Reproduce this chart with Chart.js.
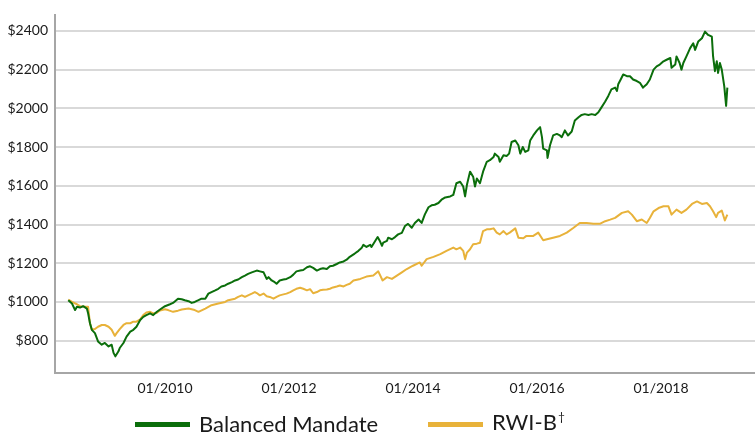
<!DOCTYPE html>
<html><head><meta charset="utf-8">
<script src="https://cdn.jsdelivr.net/npm/chart.js@4/dist/chart.umd.min.js"></script>
<style>
html,body{margin:0;padding:0;background:#fff;}
#wrap{position:relative;width:755px;height:435px;overflow:hidden;}
#legend{position:absolute;left:0;top:409px;width:755px;height:30px;font-family:Lato,"Open Sans",sans-serif;font-size:22px;line-height:26px;color:#1a1a1a;}
.item{position:absolute;top:0;display:flex;align-items:center;height:30px;white-space:nowrap;}
.sw{width:55px;height:5px;margin-right:9px;}
.sup{font-size:12px;position:relative;top:-9px;margin-left:1px;}
</style></head>
<body><div id="wrap"><canvas id="c" width="755" height="435"></canvas><div id="legend"></div></div>
<script>
// Series names
const seriesNames = ["Balanced Mandate", "RWI-B\u2020"];
const seriesColors = ["#0b6e0b", "#e8b23a"];

// Balanced Mandate (decimal years, values in $)
const balancedDates = [2008.44,2008.50,2008.55,2008.58,2008.63,2008.68,2008.74,2008.76,2008.79,2008.82,2008.87,2008.92,2008.98,2009.03,2009.09,2009.14,2009.17,2009.20,2009.25,2009.27,2009.33,2009.38,2009.44,2009.49,2009.54,2009.60,2009.65,2009.70,2009.76,2009.81,2009.87,2009.92,2010.00,2010.08,2010.13,2010.21,2010.27,2010.32,2010.38,2010.43,2010.48,2010.54,2010.59,2010.65,2010.70,2010.75,2010.81,2010.86,2010.91,2010.97,2011.02,2011.08,2011.13,2011.18,2011.24,2011.29,2011.34,2011.40,2011.48,2011.53,2011.59,2011.64,2011.67,2011.72,2011.77,2011.80,2011.85,2011.91,2011.96,2012.02,2012.07,2012.12,2012.18,2012.23,2012.29,2012.34,2012.39,2012.45,2012.50,2012.55,2012.61,2012.66,2012.71,2012.77,2012.82,2012.88,2012.93,2012.98,2013.06,2013.12,2013.17,2013.20,2013.25,2013.31,2013.33,2013.39,2013.43,2013.47,2013.50,2013.52,2013.58,2013.60,2013.66,2013.71,2013.76,2013.82,2013.87,2013.92,2013.98,2014.03,2014.09,2014.14,2014.19,2014.25,2014.30,2014.35,2014.41,2014.46,2014.52,2014.60,2014.65,2014.70,2014.76,2014.81,2014.84,2014.87,2014.92,2014.97,2015.00,2015.03,2015.08,2015.13,2015.19,2015.24,2015.30,2015.32,2015.38,2015.40,2015.46,2015.51,2015.55,2015.59,2015.65,2015.70,2015.73,2015.77,2015.81,2015.86,2015.89,2015.94,2016.00,2016.05,2016.08,2016.10,2016.16,2016.17,2016.21,2016.26,2016.32,2016.37,2016.40,2016.45,2016.50,2016.56,2016.61,2016.67,2016.72,2016.77,2016.83,2016.88,2016.94,2016.99,2017.04,2017.10,2017.15,2017.20,2017.26,2017.29,2017.31,2017.35,2017.39,2017.45,2017.50,2017.55,2017.61,2017.66,2017.71,2017.77,2017.82,2017.88,2017.93,2017.98,2018.04,2018.09,2018.15,2018.17,2018.23,2018.25,2018.30,2018.33,2018.36,2018.41,2018.47,2018.52,2018.55,2018.60,2018.66,2018.71,2018.76,2018.82,2018.84,2018.87,2018.90,2018.92,2018.95,2018.98,2019.02,2019.05,2019.07];
const balancedValues = [1009,992,958,975,971,978,966,941,890,856,839,796,779,788,770,779,737,719,745,762,788,821,847,856,872,907,923,932,941,932,949,961,978,988,995,1017,1014,1009,1004,995,1000,1009,1017,1017,1043,1051,1060,1068,1080,1085,1094,1102,1111,1116,1128,1136,1145,1153,1162,1158,1153,1119,1128,1111,1102,1094,1111,1116,1119,1128,1141,1158,1162,1165,1179,1184,1176,1162,1170,1174,1170,1184,1187,1196,1204,1209,1218,1233,1250,1264,1278,1295,1284,1295,1284,1315,1335,1312,1290,1306,1315,1332,1324,1335,1349,1357,1392,1403,1383,1408,1426,1408,1451,1489,1499,1502,1511,1528,1540,1545,1553,1613,1621,1596,1545,1605,1673,1647,1596,1638,1613,1673,1724,1732,1749,1766,1749,1724,1758,1754,1766,1826,1834,1809,1766,1800,1775,1783,1834,1860,1886,1903,1851,1792,1783,1744,1809,1860,1868,1860,1851,1886,1860,1880,1937,1954,1966,1970,1966,1970,1966,1980,2005,2035,2064,2098,2107,2090,2124,2149,2175,2166,2166,2149,2141,2132,2107,2124,2149,2200,2217,2226,2243,2251,2260,2209,2226,2268,2234,2200,2234,2268,2311,2336,2302,2345,2362,2396,2379,2370,2268,2192,2243,2183,2234,2200,2115,2013,2107];

// RWI-B benchmark (decimal years, values in $)
const rwiDates = [2008.44,2008.50,2008.58,2008.63,2008.71,2008.76,2008.79,2008.82,2008.87,2008.92,2008.98,2009.03,2009.09,2009.14,2009.19,2009.22,2009.27,2009.33,2009.38,2009.44,2009.49,2009.54,2009.60,2009.65,2009.70,2009.76,2009.81,2009.87,2009.92,2010.00,2010.05,2010.13,2010.21,2010.27,2010.38,2010.48,2010.54,2010.65,2010.75,2010.86,2010.97,2011.02,2011.13,2011.18,2011.24,2011.29,2011.34,2011.40,2011.45,2011.48,2011.53,2011.59,2011.64,2011.69,2011.75,2011.80,2011.85,2011.91,2011.96,2012.02,2012.07,2012.12,2012.18,2012.23,2012.29,2012.34,2012.39,2012.45,2012.50,2012.55,2012.61,2012.66,2012.71,2012.77,2012.82,2012.88,2012.93,2012.98,2013.04,2013.15,2013.25,2013.36,2013.44,2013.51,2013.58,2013.66,2013.74,2013.82,2013.90,2014.00,2014.11,2014.14,2014.22,2014.33,2014.44,2014.54,2014.65,2014.70,2014.76,2014.81,2014.84,2014.87,2014.92,2014.97,2015.03,2015.08,2015.13,2015.19,2015.24,2015.30,2015.35,2015.40,2015.46,2015.51,2015.56,2015.65,2015.70,2015.78,2015.83,2015.94,2016.02,2016.10,2016.16,2016.26,2016.37,2016.48,2016.59,2016.69,2016.80,2016.91,2017.02,2017.10,2017.18,2017.26,2017.37,2017.47,2017.53,2017.61,2017.69,2017.77,2017.82,2017.88,2017.96,2018.04,2018.12,2018.17,2018.25,2018.33,2018.41,2018.50,2018.58,2018.66,2018.74,2018.79,2018.84,2018.89,2018.92,2018.98,2019.03,2019.07];
const rwiValues = [1012,1000,988,978,975,975,890,856,860,872,881,881,872,856,825,839,860,881,890,890,898,898,910,932,945,949,941,944,956,962,958,949,955,961,966,958,949,966,983,992,1000,1009,1017,1026,1034,1026,1034,1043,1051,1046,1034,1043,1029,1026,1017,1026,1034,1039,1043,1051,1060,1068,1073,1068,1060,1066,1045,1051,1060,1063,1064,1068,1075,1080,1085,1080,1088,1094,1111,1119,1131,1136,1158,1111,1128,1119,1136,1153,1170,1187,1204,1187,1221,1233,1247,1264,1281,1272,1281,1264,1221,1255,1272,1298,1301,1306,1366,1375,1375,1380,1358,1349,1366,1349,1358,1380,1332,1329,1341,1341,1358,1319,1324,1332,1341,1358,1383,1408,1408,1404,1404,1417,1425,1434,1460,1468,1451,1417,1426,1408,1434,1468,1485,1494,1494,1451,1477,1460,1477,1506,1519,1506,1511,1494,1468,1438,1460,1472,1421,1451];

// Axis ticks
const xTickYears = [2010, 2012, 2014, 2016, 2018];
const yTickValues = [800, 1000, 1200, 1400, 1600, 1800, 2000, 2200, 2400];

const toPts = (xs, ys) => xs.map((x, i) => ({x: x, y: ys[i]}));
const tickFont = {family: 'Lato', size: 14};

new Chart(document.getElementById('c'), {
  type: 'line',
  data: {
    datasets: [
      {label: seriesNames[0], data: toPts(balancedDates, balancedValues), borderColor: seriesColors[0], borderWidth: 2, pointRadius: 0, tension: 0, fill: false, borderJoinStyle: 'round'},
      {label: seriesNames[1], data: toPts(rwiDates, rwiValues), borderColor: seriesColors[1], borderWidth: 2, pointRadius: 0, tension: 0, fill: false, borderJoinStyle: 'round'}
    ]
  },
  options: {
    responsive: false,
    animation: false,
    layout: {padding: {top: 12, right: 0, left: 0, bottom: 0}},
    plugins: {legend: {display: false}, tooltip: {enabled: false}},
    scales: {
      x: {
        type: 'linear', min: 2008.226, max: 2019.516,
        afterBuildTicks: s => { s.ticks = xTickYears.map(v => ({value: v})); },
        afterFit: s => { s.height = 62; },
        grid: {display: false, drawTicks: false},
        border: {display: true, color: '#a6a6a6', width: 2},
        ticks: {padding: 7, maxRotation: 0, autoSkip: false, font: tickFont, color: '#1a1a1a', callback: v => '01/' + v}
      },
      y: {
        min: 633, max: 2480,
        afterBuildTicks: s => { s.ticks = yTickValues.map(v => ({value: v})); },
        afterFit: s => { s.width = 55; },
        grid: {color: '#d9d9d9', lineWidth: 2, drawTicks: false},
        border: {display: true, color: '#a6a6a6', width: 2},
        ticks: {padding: 7, font: tickFont, color: '#1a1a1a', callback: v => '$' + v}
      }
    }
  }
});

// HTML legend (for superscript dagger)
const legend = document.getElementById('legend');
const legendLeft = [135, 428];
seriesNames.forEach((name, i) => {
  const item = document.createElement('div');
  item.className = 'item';
  item.style.left = legendLeft[i] + 'px';
  const sw = document.createElement('span');
  sw.className = 'sw';
  sw.style.background = seriesColors[i];
  item.appendChild(sw);
  const txt = document.createElement('span');
  const parts = name.split('\u2020');
  txt.appendChild(document.createTextNode(parts[0]));
  if (parts.length > 1) {
    const s = document.createElement('span');
    s.className = 'sup';
    s.textContent = '\u2020';
    txt.appendChild(s);
  }
  item.appendChild(txt);
  legend.appendChild(item);
});
</script>
</body></html>
